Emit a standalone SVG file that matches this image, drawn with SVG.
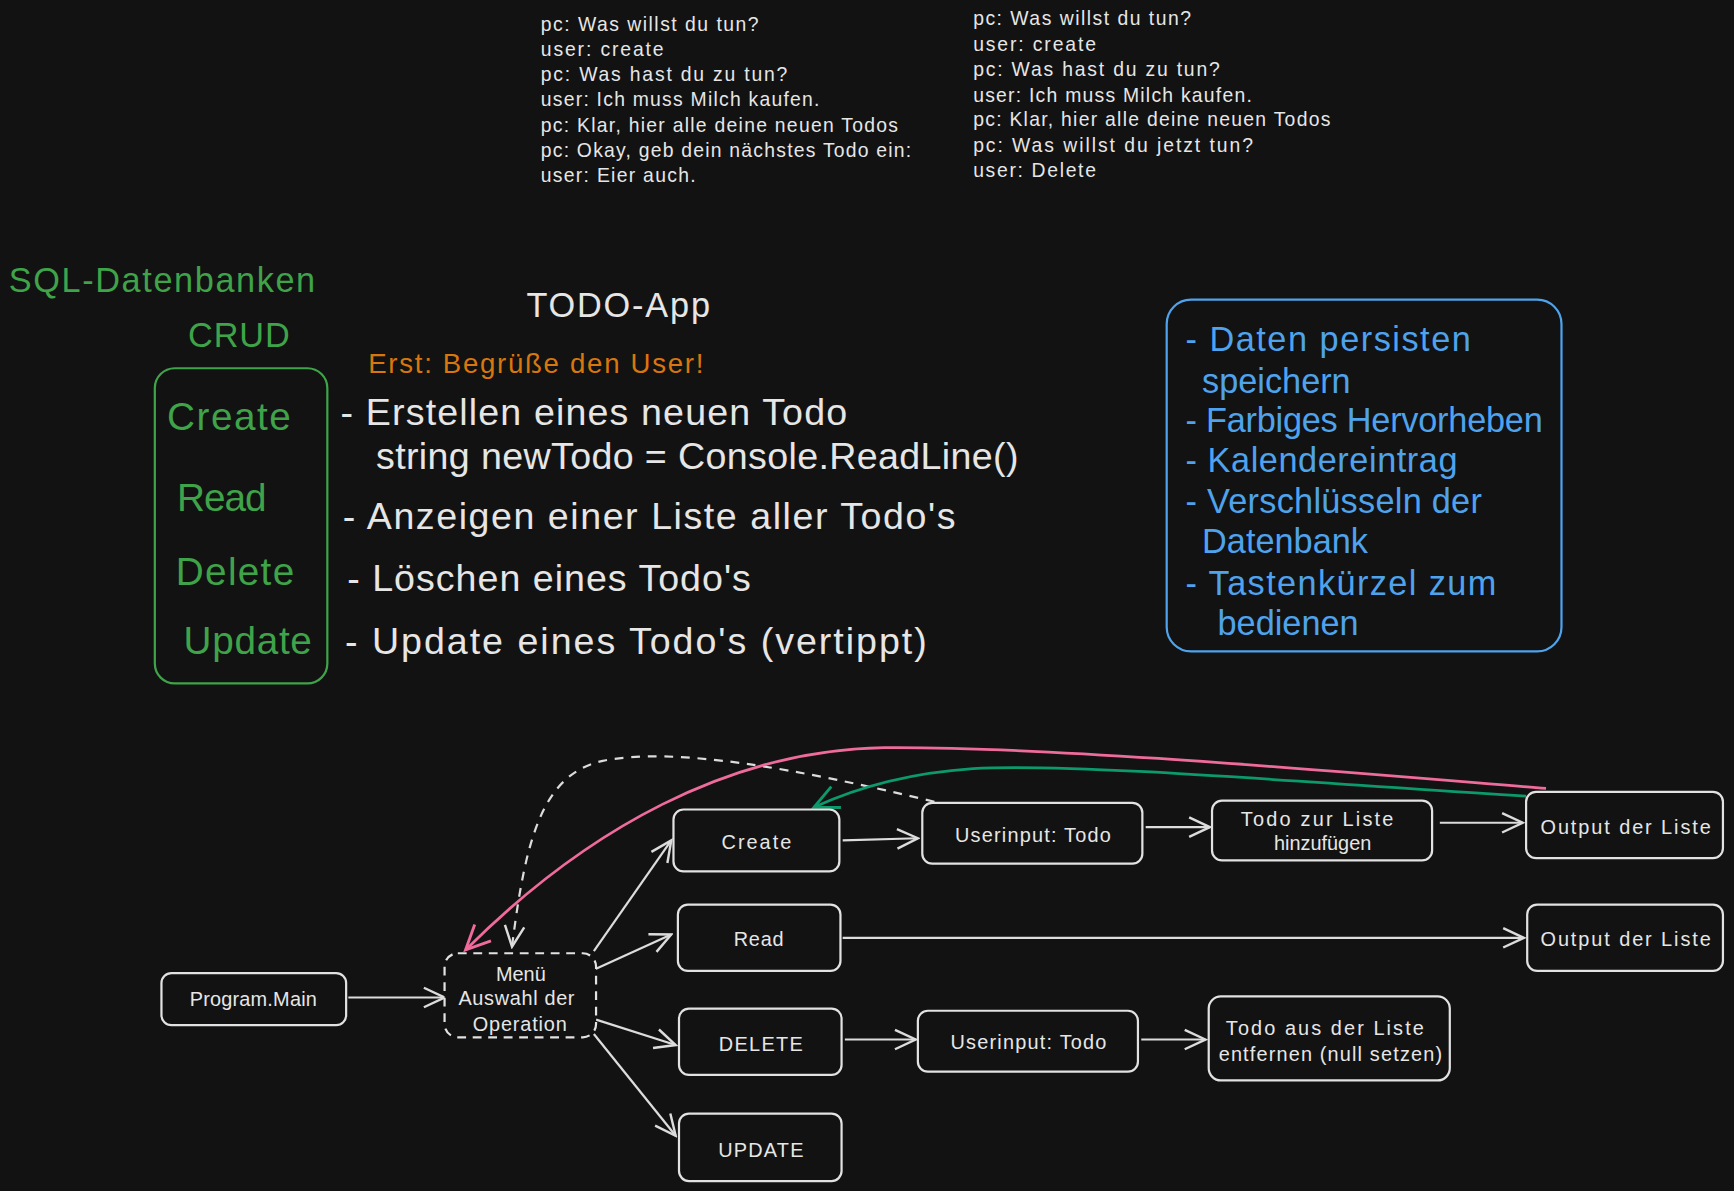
<svg xmlns="http://www.w3.org/2000/svg" width="1734" height="1191" viewBox="0 0 1734 1191">
<defs>
<style>
.bg{fill:#121212}
.t{font-family:"Liberation Sans",Arial,sans-serif;fill:#e6e6e6}
.dlg{font-size:17.5px}
.lbl{font-size:18px;text-anchor:middle}
.big{font-size:34px}
.grn{fill:#3fa349}
.blu{fill:#4fa3ec;font-size:31px}
.org{fill:#d9760d;font-size:25px}
.node{fill:#121212;stroke:#e2e2e2;stroke-width:2}
.edge{fill:none;stroke:#dcdcdc;stroke-width:2}
</style>
<marker id="aw" viewBox="0 0 20 20" refX="18" refY="10" markerWidth="22" markerHeight="22" markerUnits="userSpaceOnUse" orient="auto"><path d="M1,2 L18,10 L1,18" fill="none" stroke="#dcdcdc" stroke-width="2"/></marker>
<marker id="ap" viewBox="0 0 20 20" refX="18" refY="10" markerWidth="26" markerHeight="26" markerUnits="userSpaceOnUse" orient="auto"><path d="M1,2 L18,10 L1,18" fill="none" stroke="#ef6b9b" stroke-width="2"/></marker>
<marker id="ag" viewBox="0 0 20 20" refX="18" refY="10" markerWidth="26" markerHeight="26" markerUnits="userSpaceOnUse" orient="auto"><path d="M1,2 L18,10 L1,18" fill="none" stroke="#0c9a6c" stroke-width="2"/></marker>
</defs>
<rect class="bg" x="0" y="0" width="1734" height="1191"/>
<g transform="scale(1.10587)">

<g id="dialog-left">
<text class="t dlg" x="489" y="28" textLength="197">pc: Was willst du tun?</text>
<text class="t dlg" x="489" y="51" textLength="111">user: create</text>
<text class="t dlg" x="489" y="73" textLength="223">pc: Was hast du zu tun?</text>
<text class="t dlg" x="489" y="96" textLength="252">user: Ich muss Milch kaufen.</text>
<text class="t dlg" x="489" y="119" textLength="323">pc: Klar, hier alle deine neuen Todos</text>
<text class="t dlg" x="489" y="142" textLength="335">pc: Okay, geb dein nächstes Todo ein:</text>
<text class="t dlg" x="489" y="165" textLength="140">user: Eier auch.</text>
</g>
<g id="dialog-right">
<text class="t dlg" x="880" y="23" textLength="197">pc: Was willst du tun?</text>
<text class="t dlg" x="880" y="46" textLength="111">user: create</text>
<text class="t dlg" x="880" y="69" textLength="223">pc: Was hast du zu tun?</text>
<text class="t dlg" x="880" y="92" textLength="252">user: Ich muss Milch kaufen.</text>
<text class="t dlg" x="880" y="114" textLength="323">pc: Klar, hier alle deine neuen Todos</text>
<text class="t dlg" x="880" y="137" textLength="253">pc: Was willst du jetzt tun?</text>
<text class="t dlg" x="880" y="160" textLength="111">user: Delete</text>
</g>

<g id="titles">
<text class="t grn" x="8" y="264" font-size="31" textLength="277">SQL-Datenbanken</text>
<text class="t grn" x="170" y="314" font-size="31" textLength="92">CRUD</text>
<text class="t" x="476" y="287" font-size="31" textLength="166">TODO-App</text>
<text class="t org" x="333" y="337" textLength="303">Erst: Begrüße den User!</text>
</g>

<g id="crud-box">
<rect x="140" y="333" width="156" height="285" rx="18" fill="none" stroke="#3fa349" stroke-width="2"/>
<text class="t grn" x="151" y="389" font-size="35" textLength="112">Create</text>
<text class="t grn" x="160" y="462" font-size="35" textLength="81">Read</text>
<text class="t grn" x="159" y="529" font-size="35" textLength="107">Delete</text>
<text class="t grn" x="166" y="591" font-size="35" textLength="116">Update</text>
</g>

<g id="crud-desc">
<text class="t big" x="308" y="384" textLength="458">- Erstellen eines neuen Todo</text>
<text class="t big" x="340" y="424" textLength="581">string newTodo = Console.ReadLine()</text>
<text class="t big" x="310" y="478" textLength="554">- Anzeigen einer Liste aller Todo's</text>
<text class="t big" x="314" y="534" textLength="365">- Löschen eines Todo's</text>
<text class="t big" x="312" y="591" textLength="526">- Update eines Todo's (vertippt)</text>
</g>

<g id="ideas-box">
<rect x="1055" y="271" width="357" height="318" rx="22" fill="none" stroke="#4fa3ec" stroke-width="2"/>
<text class="t blu" x="1072" y="317" textLength="258">- Daten persisten</text>
<text class="t blu" x="1087" y="355">speichern</text>
<text class="t blu" x="1072" y="391" textLength="323">- Farbiges Hervorheben</text>
<text class="t blu" x="1072" y="427" textLength="246">- Kalendereintrag</text>
<text class="t blu" x="1072" y="464" textLength="268">- Verschlüsseln der</text>
<text class="t blu" x="1087" y="500" textLength="150">Datenbank</text>
<text class="t blu" x="1072" y="538" textLength="281">- Tastenkürzel zum</text>
<text class="t blu" x="1101" y="574">bedienen</text>
</g>

<g id="connectors">
<path class="edge" d="M315,902 L402,902" marker-end="url(#aw)"/>
<path class="edge" d="M537,860 L607,760" marker-end="url(#aw)"/>
<path class="edge" d="M537,877 L607,845" marker-end="url(#aw)"/>
<path class="edge" d="M539,922 L611,945" marker-end="url(#aw)"/>
<path class="edge" d="M537,935 L611,1027" marker-end="url(#aw)"/>
<path class="edge" d="M762,760 L830,758" marker-end="url(#aw)"/>
<path class="edge" d="M1036,748 L1094,748" marker-end="url(#aw)"/>
<path class="edge" d="M1302,744 L1377,744" stroke-width="3" marker-end="url(#aw)"/>
<path class="edge" d="M762,848 L1378,848" marker-end="url(#aw)"/>
<path class="edge" d="M764,940 L828,940" marker-end="url(#aw)"/>
<path class="edge" d="M1032,940 L1090,940" stroke-width="3" marker-end="url(#aw)"/>
<path class="edge" d="M845,725 C720,695 610,675 545,688 C490,700 475,760 463,856" stroke-dasharray="8 7" marker-end="url(#aw)"/>
<path d="M1398,713 C1200,697 950,675 800,676 C660,678 530,750 421,859" fill="none" stroke="#ef6b9b" stroke-width="2.5" marker-end="url(#ap)"/>
<path d="M1380,720 C1150,705 960,690 880,695 C820,699 775,712 736,730" fill="none" stroke="#0c9a6c" stroke-width="2.5" marker-end="url(#ag)"/>
</g>

<g id="n-main"><rect class="node" x="146" y="880" width="167" height="47" rx="9"/><text class="t lbl" x="229" y="910" textLength="115">Program.Main</text></g>
<g id="n-menu"><rect class="node" x="402" y="862" width="137" height="76" rx="12" stroke-dasharray="8 6"/><text class="t lbl" x="471" y="887">Menü</text><text class="t lbl" x="467" y="909" textLength="105">Auswahl der</text><text class="t lbl" x="470" y="932" textLength="85">Operation</text></g>
<g id="n-create"><rect class="node" x="609" y="732" width="150" height="56" rx="9"/><text class="t lbl" x="684" y="768" textLength="63">Create</text></g>
<g id="n-read"><rect class="node" x="613" y="818" width="147" height="60" rx="9"/><text class="t lbl" x="686" y="855" textLength="45">Read</text></g>
<g id="n-delete"><rect class="node" x="614" y="912" width="147" height="60" rx="9"/><text class="t lbl" x="688" y="950" textLength="76">DELETE</text></g>
<g id="n-update"><rect class="node" x="614" y="1007" width="147" height="61" rx="9"/><text class="t lbl" x="688" y="1046" textLength="77">UPDATE</text></g>
<g id="n-input1"><rect class="node" x="834" y="726" width="199" height="55" rx="9"/><text class="t lbl" x="934" y="761" textLength="141">Userinput: Todo</text></g>
<g id="n-add"><rect class="node" x="1096" y="724" width="199" height="54" rx="9"/><text class="t lbl" x="1191" y="747" textLength="138">Todo zur Liste</text><text class="t lbl" x="1196" y="769">hinzufügen</text></g>
<g id="n-out1"><rect class="node" x="1380" y="716" width="178" height="60" rx="9"/><text class="t lbl" x="1470" y="754" textLength="154">Output der Liste</text></g>
<g id="n-out2"><rect class="node" x="1381" y="818" width="177" height="60" rx="9"/><text class="t lbl" x="1470" y="855" textLength="154">Output der Liste</text></g>
<g id="n-input2"><rect class="node" x="830" y="914" width="199" height="55" rx="9"/><text class="t lbl" x="930" y="949" textLength="141">Userinput: Todo</text></g>
<g id="n-remove"><rect class="node" x="1093" y="901" width="218" height="76" rx="11"/><text class="t lbl" x="1198" y="936" textLength="179">Todo aus der Liste</text><text class="t lbl" x="1203" y="959" textLength="202">entfernen (null setzen)</text></g>
</g>
</svg>
